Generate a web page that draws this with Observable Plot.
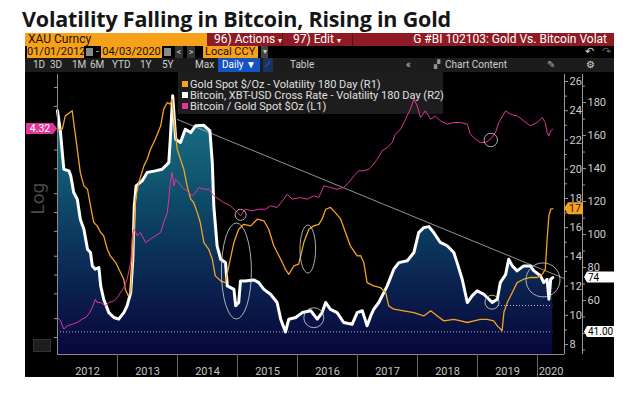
<!DOCTYPE html>
<html><head><meta charset="utf-8">
<script src="https://cdn.jsdelivr.net/npm/d3@7"></script>
<script src="https://cdn.jsdelivr.net/npm/@observablehq/plot@0.6"></script>
<style>
html,body{margin:0;padding:0;background:#fff;}
body{width:641px;height:393px;overflow:hidden;position:relative;font-family:Roboto,"Noto Sans",sans-serif;}
#title{position:absolute;left:22px;top:6px;font-family:"Open Sans",Roboto,sans-serif;font-weight:700;font-size:21.5px;color:#151515;letter-spacing:-0.2px;white-space:nowrap;line-height:26px;}
#panel{position:absolute;left:25px;top:33px;width:589px;height:344px;background:#000;overflow:hidden;}
.abs{position:absolute;white-space:nowrap;}
.r1{top:0;height:13px;line-height:13px;font-size:12px;}
.r2{top:13px;height:12px;line-height:12px;font-size:11px;}
.r3{top:25px;height:14px;line-height:14px;font-size:10px;color:#cfcfcf;}
.org{background:#f7a11a;color:#1a1000;}
#legend{position:absolute;left:153px;top:39px;width:265px;height:42px;background:#1d1d1d;font-size:11px;color:#e0e0e0;}
#legend div{position:absolute;left:12px;white-space:nowrap;line-height:11px;}
#legend span{position:absolute;left:-8px;top:2px;width:6px;height:6px;}
#chart{position:absolute;left:0;top:39px;width:589px;height:305px;}
#chart svg{position:absolute;left:0;top:0;overflow:visible;}
</style></head>
<body>
<div id="title">Volatility Falling in Bitcoin, Rising in Gold</div>
<div id="panel">
  <div class="abs r1 org" style="left:0;width:182px;padding-left:3px;box-sizing:border-box;">XAU Curncy</div>
  <div class="abs r1" style="left:182px;width:407px;background:#8e1b23;"></div>
  <div class="abs r1" style="left:257px;width:1px;background:#5c0f15;"></div>
  <div class="abs r1" style="left:327px;width:1px;background:#5c0f15;"></div>
  <div class="abs r1" style="left:189px;color:#fff;">96) Actions <span style="font-size:8px">▾</span></div>
  <div class="abs r1" style="left:268px;color:#fff;">97) Edit <span style="font-size:8px">▾</span></div>
  <div class="abs r1" style="right:7px;color:#fff;">G #BI 102103: Gold Vs. Bitcoin Volat</div>

  <div class="abs r2 org" style="left:2px;width:57px;text-align:center;">01/01/2012</div>
  <div class="abs r2" style="left:61px;width:7px;height:8px;top:15px;background:#8a8a8a;"></div>
  <div class="abs r2" style="left:71px;color:#ccc;">-</div>
  <div class="abs r2 org" style="left:76px;width:61px;text-align:center;">04/03/2020</div>
  <div class="abs r2" style="left:139px;width:7px;height:8px;top:15px;background:#8a8a8a;"></div>
  <div class="abs r2" style="left:150px;width:8px;background:#333;color:#ccc;text-align:center;font-size:9px;">&lt;</div>
  <div class="abs r2" style="left:162px;width:8px;background:#333;color:#ccc;text-align:center;font-size:9px;">&gt;</div>
  <div class="abs r2 org" style="left:178px;width:55px;padding-left:2px;box-sizing:border-box;">Local CCY</div>
  <div class="abs r2" style="left:236px;width:7px;background:#444;color:#ccc;text-align:center;font-size:8px;">▾</div>
  <div class="abs r2" style="left:560px;color:#ddd;font-size:11px;">↶</div>
  <div class="abs r2" style="left:577px;color:#666;font-size:11px;">↷</div>

  <div class="abs r3" style="left:0;width:589px;background:#1c1c1c;"></div>
  <div class="abs r3" style="left:8px;">1D</div>
  <div class="abs r3" style="left:25px;">3D</div>
  <div class="abs r3" style="left:47px;">1M</div>
  <div class="abs r3" style="left:65px;">6M</div>
  <div class="abs r3" style="left:87px;">YTD</div>
  <div class="abs r3" style="left:115px;">1Y</div>
  <div class="abs r3" style="left:137px;">5Y</div>
  <div class="abs r3" style="left:170px;">Max</div>
  <div class="abs r3" style="left:193px;width:42px;background:#1552c2;color:#fff;text-align:center;">Daily ▼</div>
  <div class="abs r3" style="left:238px;width:10px;background:#1a3260;color:#4f8fff;text-align:center;font-size:8px;">⟋</div>
  <div class="abs r3" style="left:265px;">Table</div>
  <div class="abs r3" style="left:381px;">«</div>
  <div class="abs r3" style="left:409px;color:#999;font-size:8px;">▞</div>
  <div class="abs r3" style="left:420px;">Chart Content</div>
  <div class="abs r3" style="left:522px;color:#aaa;">✎</div>
  <div class="abs r3" style="left:561px;color:#ddd;">⚙</div>

  <div id="legend">
    <div style="top:7px;"><span style="background:#f5a21e;"></span>Gold Spot $/Oz - Volatility 180 Day (R1)</div>
    <div style="top:18px;"><span style="background:#ffffff;"></span>Bitcoin, XBT-USD Cross Rate - Volatility 180 Day (R2)</div>
    <div style="top:29px;"><span style="background:#e2359a;"></span>Bitcoin / Gold Spot $Oz (L1)</div>
  </div>
  <div class="abs" style="left:8px;top:306px;width:16px;height:11px;background:#1e1e1e;border:1px solid #333;"></div>
  <div id="chart"></div>
</div>

<script>
// ---------- data (decimal years) ----------
const btcT = [
2012.00,2012.05,2012.08,2012.105,2012.19,2012.22,2012.27,2012.33,2012.38,2012.44,
2012.50,2012.55,2012.58,2012.63,2012.69,2012.72,2012.77,2012.855,2012.94,2013.02,
2013.105,2013.16,2013.22,2013.255,2013.28,2013.31,2013.41,2013.495,2013.63,2013.745,
2013.855,2013.88,2013.92,2013.97,2014.05,2014.13,2014.22,2014.30,2014.44,2014.54,
2014.58,2014.605,2014.66,2014.72,2014.80,2014.83,2014.94,2014.97,2015.02,2015.05,
2015.13,2015.27,2015.355,2015.44,2015.55,2015.66,2015.72,2015.80,2015.855,2015.97,
2016.08,2016.22,2016.33,2016.41,2016.47,2016.55,2016.66,2016.77,2016.91,2016.995,
2017.08,2017.16,2017.22,2017.27,2017.355,2017.495,2017.605,2017.69,2017.83,2017.94,
2018.02,2018.105,2018.19,2018.27,2018.38,2018.495,2018.605,2018.66,2018.745,2018.83,
2018.91,2018.995,2019.105,2019.19,2019.245,2019.33,2019.38,2019.47,2019.52,2019.58,
2019.66,2019.77,2019.88,2019.94,2020.05,2020.105,2020.16,2020.19,2020.22,2020.255];
const btcVol = [
175,161.8,149.7,139.6,138.6,135.8,125.5,121.4,109.3,103.2,
91.1,89.1,81.0,79.0,80.0,68.9,60.8,52.7,49.7,48.7,
52.7,56.8,64.8,85.0,117.4,129.5,132.5,137.6,138.6,139.6,
143.6,157.8,184.1,157.8,155.8,163.8,161.8,165.9,166.2,162.8,
143.6,117.4,93.2,85.0,83.0,68.9,66.8,56.8,58.8,71.9,
71.9,72.5,70.9,66.8,63.8,58.8,48.7,41.0,48.7,49.7,
52.7,53.8,48.7,52.7,58.8,54.7,52.7,46.7,45.6,52.7,
53.8,44.7,50.7,54.7,58.8,68.9,79.0,83.0,84.1,89.1,
101.2,104.2,104.8,101.2,95.2,93.2,89.1,83.0,72.9,58.8,
62.8,65.9,63.8,60.8,58.8,60.8,70.9,75.9,85.0,81.0,
78.0,81.0,81.0,78.0,75.0,70.9,72.9,60.8,72.9,73.9];

const goldT = [
2012.02,2012.08,2012.13,2012.245,2012.27,2012.33,2012.38,2012.44,2012.50,2012.55,
2012.605,2012.66,2012.72,2012.77,2012.83,2012.88,2012.97,2013.05,2013.105,2013.13,
2013.18,2013.22,2013.30,2013.355,2013.44,2013.495,2013.55,2013.63,2013.72,2013.77,
2013.83,2013.88,2013.91,2013.94,2013.995,2014.05,2014.105,2014.16,2014.22,2014.27,
2014.33,2014.38,2014.44,2014.52,2014.58,2014.63,2014.72,2014.80,2014.855,2014.94,
2015.02,2015.105,2015.22,2015.33,2015.44,2015.52,2015.605,2015.72,2015.80,2015.855,
2015.94,2016.02,2016.105,2016.19,2016.27,2016.355,2016.41,2016.47,2016.55,2016.63,
2016.72,2016.80,2016.88,2016.995,2017.05,2017.105,2017.16,2017.27,2017.38,2017.47,
2017.52,2017.605,2017.77,2017.94,2018.105,2018.22,2018.33,2018.44,2018.605,2018.72,
2018.83,2018.94,2019.05,2019.16,2019.27,2019.33,2019.41,2019.44,2019.495,2019.58,
2019.66,2019.77,2019.88,2019.995,2020.08,2020.13,2020.16,2020.19,2020.22,2020.255];
const goldVol = [
22.70,22.74,23.65,24.00,23.20,21.37,19.77,18.86,18.63,17.49,
16.35,16.12,15.67,15.44,14.52,14.07,13.61,12.93,12.47,11.79,
11.33,11.56,17.95,19.09,20.23,20.68,21.37,22.05,22.97,24.11,
24.56,24.45,24.79,23.42,21.37,20.68,20.00,18.86,17.95,17.72,
17.03,16.35,14.98,14.52,13.84,12.70,12.36,12.24,13.39,14.98,
15.89,16.23,16.12,16.58,16.47,15.89,14.76,13.84,13.15,12.81,
13.39,13.50,14.98,15.89,16.12,16.23,16.58,17.26,17.38,17.03,
16.58,15.67,14.76,14.07,14.09,13.61,12.24,12.02,11.90,11.56,
10.65,10.42,10.31,10.19,9.96,10.31,9.96,9.62,9.73,9.62,
9.51,9.62,9.73,9.73,9.62,9.28,8.94,10.19,10.87,11.56,
12.24,12.47,12.59,12.59,12.81,13.15,15.21,16.81,17.26,17.30];

const ratioT = [
2012.00,2012.05,2012.105,2012.16,2012.245,2012.33,2012.41,2012.47,2012.52,2012.58,
2012.63,2012.66,2012.72,2012.80,2012.855,2012.94,2013.00,2013.05,2013.105,2013.16,
2013.22,2013.255,2013.28,2013.33,2013.38,2013.47,2013.55,2013.63,2013.72,2013.77,
2013.83,2013.855,2013.88,2013.91,2013.94,2013.97,2014.02,2014.08,2014.16,2014.245,
2014.30,2014.355,2014.44,2014.52,2014.605,2014.69,2014.77,2014.88,2014.97,2015.05,
2015.13,2015.245,2015.355,2015.47,2015.55,2015.66,2015.77,2015.83,2015.91,2016.05,
2016.16,2016.27,2016.355,2016.44,2016.55,2016.66,2016.77,2016.855,2016.94,2017.02,
2017.105,2017.19,2017.245,2017.33,2017.41,2017.495,2017.58,2017.63,2017.72,2017.80,
2017.88,2017.94,2017.995,2018.05,2018.13,2018.22,2018.30,2018.38,2018.495,2018.605,
2018.72,2018.83,2018.88,2018.97,2019.05,2019.13,2019.22,2019.30,2019.355,2019.47,
2019.55,2019.66,2019.77,2019.88,2019.995,2020.08,2020.13,2020.16,2020.19,2020.22,
2020.255];
const btcGoldRatio = [
0.00418,0.00370,0.00272,0.00308,0.00327,0.00348,0.00393,0.00418,0.00472,0.00604,
0.00820,0.00726,0.00726,0.00643,0.00726,0.00773,0.00873,0.0105,0.0126,0.0171,
0.0317,0.0957,0.108,0.0847,0.0957,0.0662,0.0748,0.0847,0.0957,0.138,
0.200,0.327,0.604,0.873,0.535,0.682,0.604,0.502,0.445,0.370,
0.418,0.502,0.472,0.472,0.370,0.327,0.289,0.256,0.213,0.177,
0.226,0.213,0.226,0.226,0.256,0.240,0.327,0.393,0.327,0.347,
0.327,0.370,0.347,0.535,0.502,0.472,0.502,0.604,0.773,0.929,
0.93,0.986,1.12,1.43,1.94,2.19,2.64,3.58,4.31,6.23,
9.00,13.0,10.2,6.62,8.47,6.23,7.04,5.86,5.18,5.51,
5.51,5.18,3.58,2.98,2.64,2.64,2.98,3.81,5.51,8.47,
7.48,7.04,5.86,4.88,5.51,6.62,5.51,3.81,3.37,4.05,
4.32];

// axis ticks & labels
const leftTicks = [20,10,2,1,0.4,0.2,0.1,0.04,0.02,0.01,0.004,0.002];
const leftTickLabels = ["20","10","2.00","1.00","0.40","0.20","0.10","0.04","0.02","0.01","0.004","0.002"];
const r1Ticks = [8,10,12,14,16,18,20,22,24,26];
const r1Minor = [9,11,13,15,17,19,21,23,25];
const r2Ticks = [60,80,100,120,140,160,180];
const r2Minor = [30,40,50,70,90,110,130,150,170,190];
const years = [2012,2013,2014,2015,2016,2017,2018,2019,2020];
const yearBounds = [2013,2014,2015,2016,2017,2018,2019,2020];

// annotations: trend line (R2), reference levels (R2), circled spots
const trendT = [2014.0, 2020.45];
const trendV = [169.7, 73.3];
const supportLevel = 41;       // R2 dotted level
const supportStart = 2012.0;
const recentLevel = 57;        // R2 dotted level
const recentStart = 2019.35;
const lastDate = 2020.255;
const lastGold = 17.3, lastRatio = 4.32, lastTrend = 74;
const ringsL1 = [{t:2015.06, v:0.18}, {t:2019.23, v:2.84}];
const ringsR1 = [{t:2014.99, v:13.0}, {t:2016.18, v:14.5}];
const ringsR2 = [{t:2016.28, v:49.3}, {t:2019.25, v:58.7}, {t:2020.10, v:72.2}];
const ringSizeL1 = [[5.5,5.5],[6.7,6.7]];
const ringSizeR1 = [[15,48],[7.8,24]];
const ringSizeR2 = [[10,10],[7,7],[17,17]];

// ---------- layout ----------
const W = 589, H = 305, ML = 32, MR = 50, MT = 2, MB = 23;
const xDomain = [2012, 2020.45];
const yR2 = [27.3, 197], yR1 = [7.32, 26.48], yL1 = [0.00107, 32.3];
// year labels sit in the middle of the visible part of each year
const yearLabelPos = years.map(y => (y + Math.min(y + 1, xDomain[1])) / 2);

const btc = btcT.map((t,i)=>({t, v:btcVol[i]}));
const gold = goldT.map((t,i)=>({t, v:goldVol[i]}));
const ratio = ratioT.map((t,i)=>({t, v:btcGoldRatio[i]}));
const trend = trendT.map((t,i)=>({t, v:trendV[i]}));

function layer(y, marks){
  return Plot.plot({
    width:W, height:H, marginLeft:ML, marginRight:MR, marginTop:MT, marginBottom:MB,
    style:{background:"transparent", color:"#c9c9c9", fontFamily:"Roboto, sans-serif", fontSize:"11px", overflow:"visible"},
    x:{type:"linear", domain:xDomain, axis:null, label:null},
    y:{...y, axis:null, label:null},
    marks
  });
}

function rings(list, sizes){
  return (index, scales) => {
    const g = d3.create("svg:g").attr("fill","none").attr("stroke","#d8d8d8").attr("stroke-width",0.8);
    list.forEach((d,i)=>{
      g.append("ellipse").attr("cx", scales.x(d.t)).attr("cy", scales.y(d.v))
       .attr("rx", sizes[i][0]).attr("ry", sizes[i][1]);
    });
    return g.node();
  };
}

function tag(value, text, kind){
  return (index, scales) => {
    const y = scales.y(value);
    const g = d3.create("svg:g").attr("font-size", 10.5).attr("font-family","Roboto, sans-serif");
    let pts, tx, anchor, fill, color;
    if (kind === "left") { pts=[[1,y-5.5],[28,y-5.5],[32,y],[28,y+5.5],[1,y+5.5]]; tx=15; anchor="middle"; fill="#e2359a"; color="#fff"; }
    else if (kind === "r1") { pts=[[539,y],[543,y-6],[558,y-6],[558,y+6],[543,y+6]]; tx=550; anchor="middle"; fill="#f5a21e"; color="#2a1800"; }
    else { pts=[[559,y],[562,y-5.5],[589,y-5.5],[589,y+5.5],[562,y+5.5]]; tx=563; anchor="start"; fill="#ffffff"; color="#000"; }
    g.append("polygon").attr("points", pts.map(p=>p.join(",")).join(" ")).attr("fill", fill);
    g.append("text").attr("x", tx).attr("y", y).attr("dy","0.36em").attr("text-anchor", anchor)
      .attr("fill", color).attr("font-size", kind === "r2" ? 10 : 10.5).text(text);
    return g.node();
  };
}

const gradDefs = () => {
  const defs = d3.create("svg:defs");
  const lg = defs.append("linearGradient").attr("id","btcFill").attr("gradientUnits","userSpaceOnUse")
    .attr("x1",0).attr("x2",0).attr("y1",MT+15).attr("y2",H-MB);
  [[0,"#1b7a8c"],[0.3,"#115a72"],[0.55,"#0c3a5e"],[0.8,"#0a1b4a"],[1,"#07073a"]]
    .forEach(([o,c])=>lg.append("stop").attr("offset",o).attr("stop-color",c));
  return defs.node();
};

// Layer A: Bitcoin volatility (R2)
const layerA = layer({domain:yR2}, [
  gradDefs,
  Plot.areaY(btc, {x:"t", y1:yR2[0], y2:"v", fill:"url(#btcFill)", curve:"linear"}),
  Plot.ruleY([supportLevel], {x1:supportStart, x2:lastDate, stroke:"#dcdcdc", strokeWidth:0.8, strokeDasharray:"1,2"}),
  Plot.ruleY([recentLevel], {x1:recentStart, x2:lastDate, stroke:"#dcdcdc", strokeWidth:0.8, strokeDasharray:"1,2"}),
  Plot.line(trend, {x:"t", y:"v", stroke:"#b8b8b8", strokeWidth:0.8}),
  Plot.line(btc, {x:"t", y:"v", stroke:"#ffffff", strokeWidth:3, strokeLinejoin:"round"}),
  Plot.ruleX([xDomain[1]], {dx:18, stroke:"#9a9a9a"}),
  Plot.axisY({anchor:"right", ticks:r2Minor, tickSize:2, dx:18, tickFormat:()=>"", stroke:"#9a9a9a", label:null}),
  Plot.axisY({anchor:"right", ticks:r2Ticks, tickSize:3, tickPadding:2, dx:18, stroke:"#9a9a9a", fill:"#cfcfcf", label:null}),
  rings(ringsR2, ringSizeR2),
  tag(lastTrend, "74", "r2"),
  tag(supportLevel, "41.00", "r2")
]);

// Layer B: Gold volatility (R1)
const layerB = layer({domain:yR1}, [
  Plot.line(gold, {x:"t", y:"v", stroke:"#f5a21e", strokeWidth:1.3, strokeLinejoin:"round"}),
  Plot.ruleX([xDomain[1]], {stroke:"#9a9a9a"}),
  Plot.axisY({anchor:"right", ticks:r1Minor, tickSize:2, tickFormat:()=>"", stroke:"#9a9a9a", label:null}),
  Plot.axisY({anchor:"right", ticks:r1Ticks, tickSize:3, tickPadding:2, stroke:"#9a9a9a", fill:"#cfcfcf", label:null}),
  rings(ringsR1, ringSizeR1),
  tag(lastGold, "17", "r1")
]);

// Layer C: Bitcoin / Gold ratio (L1, log)
const layerC = layer({type:"log", domain:yL1}, [
  Plot.line(ratio, {x:"t", y:"v", stroke:"#e2359a", strokeWidth:1, strokeLinejoin:"round"}),
  Plot.ruleX([xDomain[0]], {stroke:"#8a8a8a"}),
  Plot.ruleY([yL1[0]], {stroke:"#8a8a8a"}),
  Plot.axisY({anchor:"left", ticks:leftTicks, tickFormat:(d,i)=>leftTickLabels[i], tickSize:3, tickPadding:2, stroke:"#9a9a9a", fill:"#cfcfcf", label:null}),
  Plot.axisX({ticks:yearBounds, tickSize:23, tickFormat:()=>"", stroke:"#6a6a6a", label:null}),
  Plot.axisX({ticks:yearLabelPos, tickSize:0, tickPadding:13, tickFormat:d=>String(Math.floor(d)), fill:"#c4c4c4", label:null}),
  Plot.text(["Log"], {frameAnchor:"left", dx:-20, rotate:-90, fontSize:19, fill:"#4a4a4a"}),
  rings(ringsL1, ringSizeL1),
  tag(lastRatio, "4.32", "left")
]);

const chart = document.getElementById("chart");
chart.append(layerA, layerB, layerC);
</script>
</body></html>
